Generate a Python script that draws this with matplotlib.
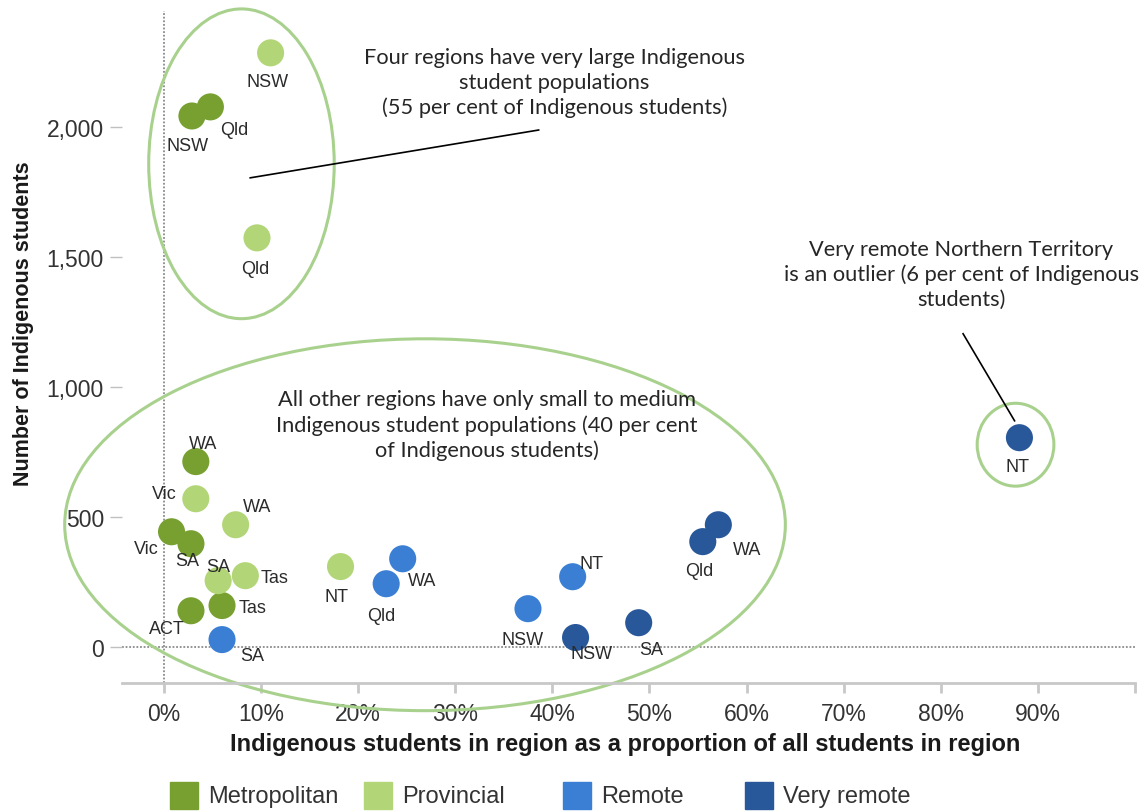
import numpy as np
import matplotlib.pyplot as plt
from matplotlib.patches import Ellipse, Rectangle
from matplotlib.ticker import FuncFormatter

# values (x = % of students who are Indigenous, y = count)
metro_names = ['NSW', 'Qld', 'WA', 'Vic', 'SA', 'Tas', 'ACT']
metro_pct = [2.9, 4.8, 3.3, 0.8, 2.8, 6.0, 2.8]
metro_count = [2042, 2077, 712, 442, 396, 158, 138]

prov_names = ['NSW', 'Qld', 'Vic', 'WA', 'SA', 'Tas', 'NT']
prov_pct = [11.0, 9.6, 3.3, 7.4, 5.6, 8.4, 18.2]
prov_count = [2285, 1573, 569, 469, 254, 273, 308]

remote_names = ['SA', 'WA', 'Qld', 'NSW', 'NT']
remote_pct = [6.0, 24.6, 22.9, 37.5, 42.1]
remote_count = [27, 338, 242, 146, 269]

vremote_names = ['NSW', 'SA', 'Qld', 'WA', 'NT']
vremote_pct = [42.4, 48.9, 55.5, 57.1, 88.1]
vremote_count = [35, 92, 404, 469, 804]

categories = ['Metropolitan', 'Provincial', 'Remote', 'Very remote']
colors = ['#77a030', '#b2d677', '#3a7fd4', '#28589a']

# label offsets in pixels (dx, dy)
metro_off = [(-4, -30), (24, -23), (7, 18), (-25, -17), (-4, -17), (31, -2), (-24, -18)]
prov_off = [(-3, -29), (-2, -31), (-32, 5), (21, 18), (0, 14), (29, -2), (-4, -30)]
remote_off = [(30, -16), (19, -22), (-5, -32), (-5, -31), (19, 13)]
vremote_off = [(16, -16), (13, -27), (-4, -29), (29, -25), (-2, -29)]

series = [
    (metro_names, metro_pct, metro_count, metro_off),
    (prov_names, prov_pct, prov_count, prov_off),
    (remote_names, remote_pct, remote_count, remote_off),
    (vremote_names, vremote_pct, vremote_count, vremote_off),
]

plt.rcParams['font.family'] = ['Liberation Sans', 'DejaVu Sans']

fig = plt.figure(figsize=(11.47, 8.12), dpi=100)
ax = fig.add_axes([122 / 1147, 1 - 684 / 812, 1013 / 1147, 672 / 812])

ax.set_xlim(-4.3, 100)
ax.set_ylim(-140, 2446)

# reference lines at zero
ax.axhline(0, color='#8a8a8a', lw=1.3, ls=(0, (1, 1)), zorder=1)
ax.axvline(0, color='#8a8a8a', lw=1.3, ls=(0, (1, 1)), zorder=1)

for (names, xs, ys, offs), col in zip(series, colors):
    ax.scatter(xs, ys, s=380, color=col, edgecolors='none', zorder=3)
    for name, x, y, (dx, dy) in zip(names, xs, ys, offs):
        ax.annotate(name, (x, y), xytext=(dx, dy), textcoords='offset pixels',
                    ha='center', va='center', fontsize=13, color='#2b2b2b', zorder=4)

# groups ringed in green
ring = '#a9d18e'
for cx, cy, w, h in [(8.0, 1858, 19.1, 1192), (26.9, 469, 74.2, 1431), (87.7, 777, 7.9, 319)]:
    ax.add_patch(Ellipse((cx, cy), w, h, fill=False, ec=ring, lw=2.2, zorder=2,
                         clip_on=False))

note_font = dict(family=['Lato', 'DejaVu Sans'], fontsize=15.7, color='#262626',
                 ha='center', va='center', linespacing=1.3)
ax.text(40.2, 2173, 'Four regions have very large Indigenous\nstudent populations\n'
        '(55 per cent of Indigenous students)', **note_font)
ax.text(82.1, 1435, 'Very remote Northern Territory\nis an outlier (6 per cent of Indigenous\n'
        'students)', **note_font)
ax.text(33.3, 854, 'All other regions have only small to medium\nIndigenous student '
        'populations (40 per cent\nof Indigenous students)', **note_font)
ax.plot([8.9, 38.6], [1804, 1988], color='black', lw=1.2, zorder=2)
ax.plot([82.3, 87.6], [1204, 869], color='black', lw=1.2, zorder=2)

# axes styling
for side in ['left', 'top', 'right']:
    ax.spines[side].set_visible(False)
ax.spines['bottom'].set_color('#c8c8c8')
ax.spines['bottom'].set_linewidth(2)

ax.set_xticks(np.arange(0, 101, 10))
ax.set_xticklabels([f'{v}%' for v in range(0, 100, 10)] + [''])
ax.set_yticks([0, 500, 1000, 1500, 2000])
ax.yaxis.set_major_formatter(FuncFormatter(lambda v, p: f'{int(v):,}'))
ax.tick_params(axis='x', length=7, width=2, color='#c8c8c8', pad=7,
               labelsize=16.5, labelcolor='#333333')
ax.tick_params(axis='y', length=9, width=1, color='#c0c0c0', pad=4,
               labelsize=16.5, labelcolor='#333333')

ax.set_xlabel('Indigenous students in region as a proportion of all students in region',
              fontsize=17, fontweight='bold', color='#1a1a1a')
ax.xaxis.set_label_coords(0.497, (684 - 745) / 672)
ax.xaxis.label.set_va('center')
ax.set_ylabel('Number of Indigenous students', fontsize=15.5, fontweight='bold',
              color='#1a1a1a')
ax.yaxis.set_label_coords((23 - 122) / 1013, (684 - 324) / 672)
ax.yaxis.label.set_va('center')

# legend along the bottom
leg_x = [170, 364, 563, 745]
for cat, col, lx in zip(categories, colors, leg_x):
    fig.add_artist(Rectangle((lx / 1147, 1 - 810 / 812), 28 / 1147, 27 / 812,
                             transform=fig.transFigure, color=col))
    fig.text((lx + 38) / 1147, 1 - 797 / 812, cat, fontsize=17, color='#333333',
             va='center', ha='left')

fig.savefig('out.png', dpi=100)
